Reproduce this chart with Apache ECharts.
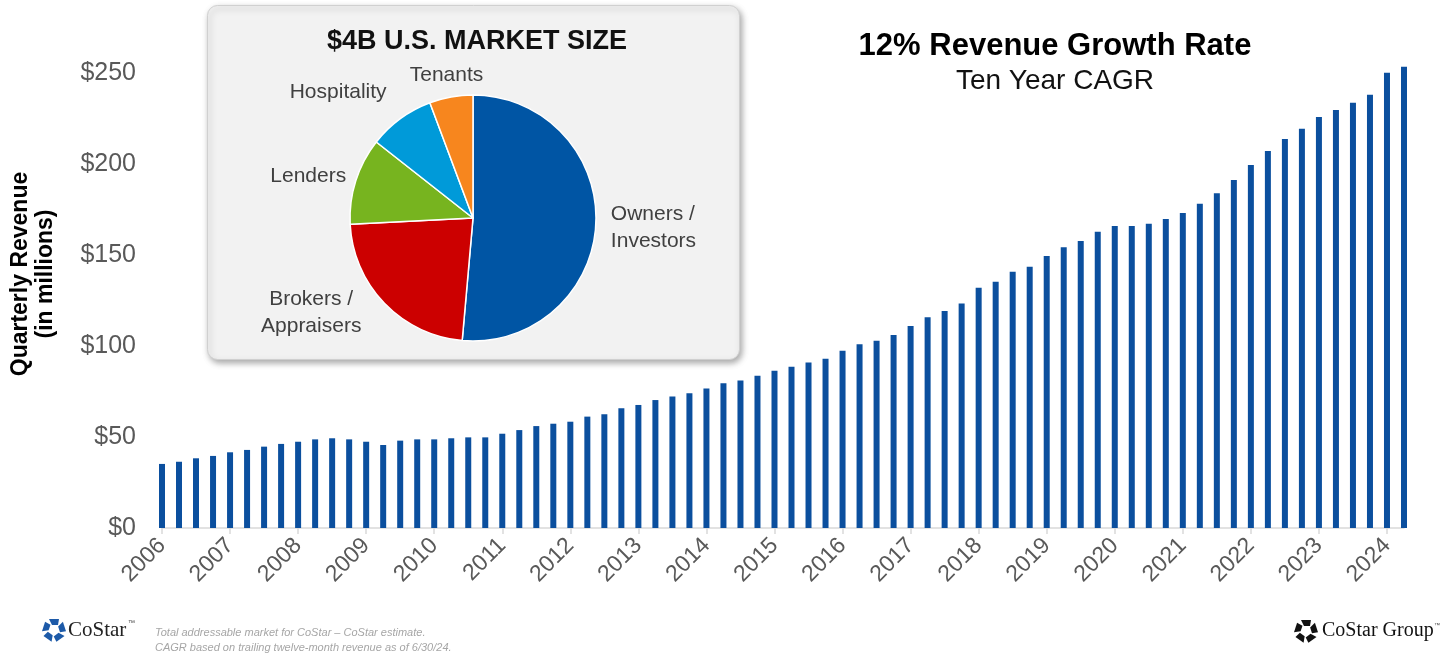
<!DOCTYPE html>
<html>
<head>
<meta charset="utf-8">
<script src="https://cdn.jsdelivr.net/npm/echarts@6/dist/echarts.min.js"></script>
<style>
  html, body { margin: 0; padding: 0; background: #fff; }
  #chart { width: 1453px; height: 660px; }
</style>
</head>
<body>
<div id="chart"></div>
<script>
// quarterly revenue, $ millions, 2006 Q1 .. 2024 Q2
const years = ["2006", "2007", "2008", "2009", "2010", "2011", "2012", "2013", "2014",
  "2015", "2016", "2017", "2018", "2019", "2020", "2021", "2022", "2023", "2024"];
const quarters = ["Q1", "Q2", "Q3", "Q4"];
const revenue = [
  35.2, 36.4, 38.3, 39.6,
  41.6, 42.9, 44.7, 46.2,
  47.4, 48.7, 49.3, 48.7,
  47.4, 45.6, 48.0, 48.7,
  48.7, 49.3, 49.8, 49.8,
  51.8, 53.8, 56.0, 57.3,
  58.4, 61.2, 62.5, 65.8,
  67.6, 70.3, 72.2, 74.0,
  76.7, 79.5, 81.1, 83.7,
  86.4, 88.6, 91.0, 93.0,
  97.4, 100.9, 102.9, 106.0,
  111.0, 115.8, 119.2, 123.4,
  132.0, 135.3, 140.8, 143.6,
  149.5, 154.2, 157.7, 162.8,
  165.9, 165.9, 167.2, 169.8,
  173.1, 178.1, 183.9, 191.2,
  199.5, 207.1, 213.7, 219.4,
  225.8, 229.7, 233.7, 238.1,
  250.2, 253.5
];

// market size split (pie inset), percent
const segments = ["Owners /\nInvestors", "Brokers /\nAppraisers", "Lenders", "Hospitality", "Tenants"];
const shares = [51.4, 22.8, 11.4, 8.7, 5.7];
const segmentColors = ["#0055A4", "#CC0000", "#77B41F", "#009AD9", "#F7861E"];

const categories = [];
years.forEach((y) => quarters.forEach((q) => categories.push(y + " " + q)));
categories.length = revenue.length;

// nudges for the pie labels so they sit like the original slide
const labelNudge = [
  { dx: 0, dy: 4 },
  { dx: -61, dy: 2, align: "center" },
  { dx: 0, dy: -1 },
  { dx: 0, dy: -24 },
  { dx: 39, dy: -12 },
];

const chart = echarts.init(document.getElementById("chart"));

// logo mark: five blocks round a centre
function logoMark(cx, cy, color) {
  const children = [];
  for (let k = 0; k < 5; k++) {
    children.push({
      type: "polygon",
      rotation: (k * 2 * Math.PI) / 5,
      shape: { points: [[-5, -11], [5, -11], [4, -5], [-2, -5]] },
      style: { fill: color },
    });
  }
  return { type: "group", x: cx, y: cy, children: children };
}

const option = {
  backgroundColor: "#fff",
  animation: false,
  title: [
    {
      text: "12% Revenue Growth Rate",
      subtext: "Ten Year CAGR",
      left: 1050,
      top: 26,
      textAlign: "center",
      itemGap: 5,
      textStyle: { fontFamily: "Liberation Sans", fontSize: 31, fontWeight: "bold", color: "#000" },
      subtextStyle: { fontFamily: "Liberation Sans", fontSize: 28, color: "#111" },
    },
    {
      text: "$4B U.S. MARKET SIZE",
      left: 472,
      top: 23,
      textAlign: "center",
      textStyle: { fontFamily: "Liberation Sans", fontSize: 27, fontWeight: "bold", color: "#111" },
    },
  ],
  grid: { left: 162, right: 49, top: 73, bottom: 132 },
  xAxis: {
    type: "category",
    data: categories,
    boundaryGap: false,
    axisLine: { lineStyle: { color: "#d9d9d9", width: 1.5 } },
    axisTick: { interval: 3, length: 6, lineStyle: { color: "#d9d9d9", width: 1.5 } },
    axisLabel: {
      interval: 3,
      rotate: 45,
      margin: 14,
      color: "#595959",
      fontFamily: "Liberation Sans",
      fontSize: 23,
      formatter: (v) => v.slice(0, 4),
    },
    splitLine: { show: false },
  },
  yAxis: {
    type: "value",
    min: 0,
    max: 250,
    interval: 50,
    axisLine: { show: false },
    axisTick: { show: false },
    splitLine: { show: false },
    axisLabel: {
      margin: 26,
      color: "#595959",
      fontFamily: "Liberation Sans",
      fontSize: 25,
      formatter: (v) => "$" + v,
    },
  },
  graphic: {
    elements: [
      {
        type: "rect",
        left: 207,
        top: 5,
        shape: { width: 532, height: 354, r: 10 },
        style: {
          fill: "#f2f2f2",
          stroke: "#d0d0d0",
          lineWidth: 1,
          shadowBlur: 6,
          shadowOffsetX: 2,
          shadowOffsetY: 3,
          shadowColor: "rgba(0,0,0,0.35)",
        },
        z: 0,
      },
      {
        type: "text",
        x: 33,
        y: 274,
        rotation: Math.PI / 2,
        style: {
          text: "Quarterly Revenue\n(in millions)",
          fill: "#000",
          font: "bold 23px 'Liberation Sans'",
          lineHeight: 25,
          align: "center",
          verticalAlign: "middle",
        },
      },
      logoMark(54, 630, "#1d5aa8"),
      {
        type: "text",
        x: 68,
        y: 630,
        style: { text: "CoStar", fill: "#222", font: "21px 'Liberation Serif'", verticalAlign: "middle" },
      },
      {
        type: "text",
        x: 128,
        y: 623,
        style: { text: "™", fill: "#444", font: "7px 'Liberation Sans'", verticalAlign: "middle" },
      },
      {
        type: "text",
        x: 155,
        y: 625,
        style: {
          text: "Total addressable market for CoStar – CoStar estimate.\nCAGR based on trailing twelve-month revenue as of 6/30/24.",
          fill: "#a6a6a6",
          font: "italic 11px 'Liberation Sans'",
          lineHeight: 15,
        },
      },
      logoMark(1306, 631, "#111"),
      {
        type: "text",
        x: 1322,
        y: 631,
        style: { text: "CoStar Group", fill: "#111", font: "20px 'Liberation Serif'", verticalAlign: "middle" },
      },
      {
        type: "text",
        x: 1434,
        y: 625,
        style: { text: "™", fill: "#444", font: "6px 'Liberation Sans'", verticalAlign: "middle" },
      },
    ],
  },
  series: [
    {
      name: "Quarterly Revenue",
      type: "bar",
      data: revenue,
      barWidth: 6,
      clip: false,
      itemStyle: { color: "#0B4F9E" },
      z: 2,
    },
    {
      name: "U.S. Market Size",
      type: "pie",
      center: [473, 218],
      radius: 123,
      startAngle: 90,
      clockwise: true,
      z: 5,
      data: segments.map((name, i) => ({
        name: name,
        value: shares[i],
        itemStyle: { color: segmentColors[i] },
      })),
      itemStyle: { borderColor: "#fff", borderWidth: 1.5 },
      label: {
        position: "outside",
        color: "#404040",
        fontFamily: "Liberation Sans",
        fontSize: 21,
        lineHeight: 27,
        formatter: "{b}",
      },
      labelLine: { show: false, length: 10, length2: 0 },
      labelLayout: (params) => labelNudge[params.dataIndex],
    },
  ],
};

chart.setOption(option);
</script>
</body>
</html>
